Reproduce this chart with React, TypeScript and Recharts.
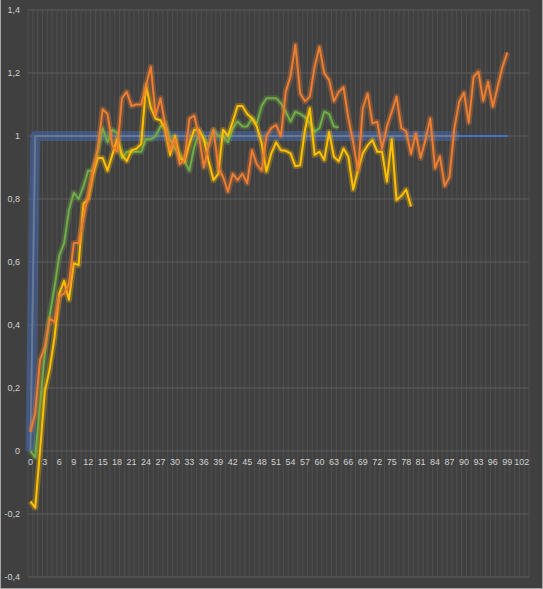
import { LineChart, Line, XAxis, YAxis, CartesianGrid } from 'recharts'

// step index 0..99 (category axis runs 0..103)
const orange = [
  0.06, 0.12, 0.29, 0.33, 0.42, 0.41, 0.49, 0.5, 0.53, 0.66,
  0.66, 0.74, 0.81, 0.89, 0.96, 1.085, 1.07, 0.97, 0.95, 1.12,
  1.14, 1.095, 1.1, 1.1, 1.16, 1.22, 1.065, 1.12, 1.035, 0.955,
  0.99, 0.91, 0.925, 1.055, 1.065, 1.0, 0.9, 0.97, 1.02, 0.9,
  0.87, 0.823, 0.88, 0.86, 0.88, 0.85, 0.955, 0.91, 0.89, 1.0,
  1.025, 1.035, 1.0, 1.14, 1.19, 1.29, 1.135, 1.11, 1.125, 1.22,
  1.283, 1.199, 1.178, 1.11, 1.14, 1.155, 1.056, 0.98, 0.89, 1.088,
  1.135, 1.04, 1.045, 0.96, 1.03, 1.077, 1.125, 1.025, 1.015, 0.943,
  1.008, 0.93, 0.987, 1.056, 0.897, 0.936, 0.841, 0.87, 1.024, 1.109,
  1.138, 1.042, 1.188, 1.204, 1.112, 1.172, 1.093, 1.157, 1.22, 1.265,
]

const yellow = [
  -0.16, -0.18, 0.0, 0.19, 0.26, 0.36, 0.5, 0.54, 0.48, 0.596,
  0.59, 0.785, 0.8, 0.88, 0.93, 0.93, 0.89, 0.94, 0.99, 0.94,
  0.92, 0.955, 0.96, 0.975, 1.16, 1.09, 1.055, 1.05, 1.02, 0.94,
  1.0, 0.93, 0.92, 0.975, 1.02, 1.02, 0.99, 0.92, 0.86, 0.88,
  1.02, 1.0, 1.046, 1.095, 1.095, 1.07, 1.056, 1.03, 0.977, 0.887,
  0.945, 0.98, 0.955, 0.953, 0.945, 0.904, 0.907, 1.02, 1.088, 0.94,
  0.95, 0.924, 1.013, 0.934, 0.92, 0.96, 0.934, 0.83, 0.892, 0.945,
  0.97, 0.987, 0.95, 0.95, 0.855, 0.99, 0.797, 0.81, 0.83, 0.776,
]

const green = [
  0.0, -0.02, 0.15, 0.31, 0.43, 0.52, 0.62, 0.66, 0.765, 0.82,
  0.8, 0.84, 0.89, 0.89, 0.95, 1.025, 0.98, 1.02, 1.01, 0.93,
  0.95, 0.95, 0.95, 0.95, 0.99, 0.99, 1.0, 1.03, 1.04, 0.99,
  0.96, 0.94, 0.92, 0.89, 0.965, 1.01, 0.99, 0.97, 1.02, 1.0,
  1.0, 0.98, 1.024, 1.046, 1.03, 1.03, 1.056, 1.04, 1.095, 1.12,
  1.12, 1.12, 1.104, 1.077, 1.046, 1.077, 1.07, 1.06, 1.04, 1.014,
  1.025, 1.077, 1.07, 1.03, 1.027,
]

const target = [
  0, 1, 1, 1, 1, 1, 1, 1, 1, 1,
  1, 1, 1, 1, 1, 1, 1, 1, 1, 1,
  1, 1, 1, 1, 1, 1, 1, 1, 1, 1,
  1, 1, 1, 1, 1, 1, 1, 1, 1, 1,
  1, 1, 1, 1, 1, 1, 1, 1, 1, 1,
  1, 1, 1, 1, 1, 1, 1, 1, 1, 1,
  1, 1, 1, 1, 1, 1, 1, 1, 1, 1,
  1, 1, 1, 1, 1, 1, 1, 1, 1, 1,
  1, 1, 1, 1, 1, 1, 1, 1, 1, 1,
  1, 1, 1, 1, 1, 1, 1, 1, 1, 1,
]
const TARGET_GLOW_END = 89

const xTicks = [0, 3, 6, 9, 12, 15, 18, 21, 24, 27, 30, 33, 36, 39, 42, 45, 48, 51, 54, 57, 60, 63, 66, 69, 72, 75, 78, 81, 84, 87, 90, 93, 96, 99, 102]
const yTicks = [-0.4, -0.2, 0, 0.2, 0.4, 0.6, 0.8, 1, 1.2, 1.4]
const CATEGORY_COUNT = 104

const data = target.map((t, i) => ({
  i,
  target: t,
  targetGlow: i <= TARGET_GLOW_END ? t : null,
  orange: orange[i] ?? null,
  yellow: yellow[i] ?? null,
  green: green[i] ?? null,
}))

const W = 541
const H = 588
const X_AXIS_H = 1
const MARGIN = { top: 10, right: 13, bottom: 10, left: 0 }
const Y_MIN = -0.4
const Y_MAX = 1.4
const PLOT_H = H - MARGIN.top - MARGIN.bottom - X_AXIS_H
const ZERO_LIFT = (PLOT_H * (0 - Y_MIN)) / (Y_MAX - Y_MIN)

const FONT = '"Liberation Sans", Arial, sans-serif'
const LABEL = '#d0d0d0'

const fmt = (v: number) => String(Math.round(v * 10) / 10).replace('.', ',')

// Excel puts the category labels on the zero line, not at the bottom
const renderXTick = (props: any) => {
  const { x, y, payload } = props
  return (
    <text
      key={'xt-' + payload.value}
      x={x}
      y={y - ZERO_LIFT + 14}
      textAnchor="middle"
      fill={LABEL}
      fontSize={9}
      fontFamily={FONT}
    >
      {payload.value}
    </text>
  )
}

const glow = (key: string, color: string, width = 6, opacity = 0.3) => (
  <Line
    key={key + '-glow'}
    dataKey={key}
    type="linear"
    stroke={color}
    strokeWidth={width}
    strokeOpacity={opacity}
    strokeLinejoin="round"
    dot={false}
    activeDot={false}
    isAnimationActive={false}
  />
)

const main = (key: string, color: string, width = 2) => (
  <Line
    key={key}
    dataKey={key}
    type="linear"
    stroke={color}
    strokeWidth={width}
    strokeLinejoin="round"
    dot={false}
    activeDot={false}
    isAnimationActive={false}
  />
)

export default function App() {
  return (
    <div
      style={{
        position: 'absolute',
        left: 0,
        top: 0,
        width: 543,
        height: 589,
        boxSizing: 'border-box',
        background: '#404040',
        borderLeft: '1px solid #a6a6a6',
        borderRight: '1px solid #a6a6a6',
        borderBottom: '1px solid #a6a6a6',
      }}
    >
      <LineChart width={W} height={H} data={data} margin={MARGIN}>
        <CartesianGrid
          horizontal={false}
          stroke="#4f4f4f"
          verticalCoordinatesGenerator={({ offset }: any) =>
            Array.from({ length: CATEGORY_COUNT + 1 }, (_, k) => offset.left + (k * offset.width) / CATEGORY_COUNT)
          }
        />
        <CartesianGrid vertical={false} stroke="#5c5c5c" />
        <XAxis
          dataKey="i"
          type="number"
          domain={[-0.5, CATEGORY_COUNT - 0.5]}
          ticks={xTicks}
          interval={0}
          height={X_AXIS_H}
          axisLine={false}
          tickLine={false}
          tickSize={0}
          tickMargin={0}
          tick={renderXTick}
        />
        <YAxis
          domain={[Y_MIN, Y_MAX]}
          ticks={yTicks}
          allowDataOverflow
          width={27}
          axisLine={false}
          tickLine={false}
          tickSize={0}
          tickMargin={8}
          tickFormatter={fmt}
          tick={{ fill: LABEL, fontSize: 9, fontFamily: FONT }}
        />
        {glow('targetGlow', '#4472c4', 10, 0.45)}
        {main('target', '#4472c4', 2)}
        {main('targetGlow', '#737a86', 1.5)}
        {glow('green', '#70ad47')}
        {main('green', '#70ad47')}
        {glow('yellow', '#ffc000')}
        {main('yellow', '#ffc000')}
        {glow('orange', '#ed7d31')}
        {main('orange', '#ed7d31')}
      </LineChart>
    </div>
  )
}
